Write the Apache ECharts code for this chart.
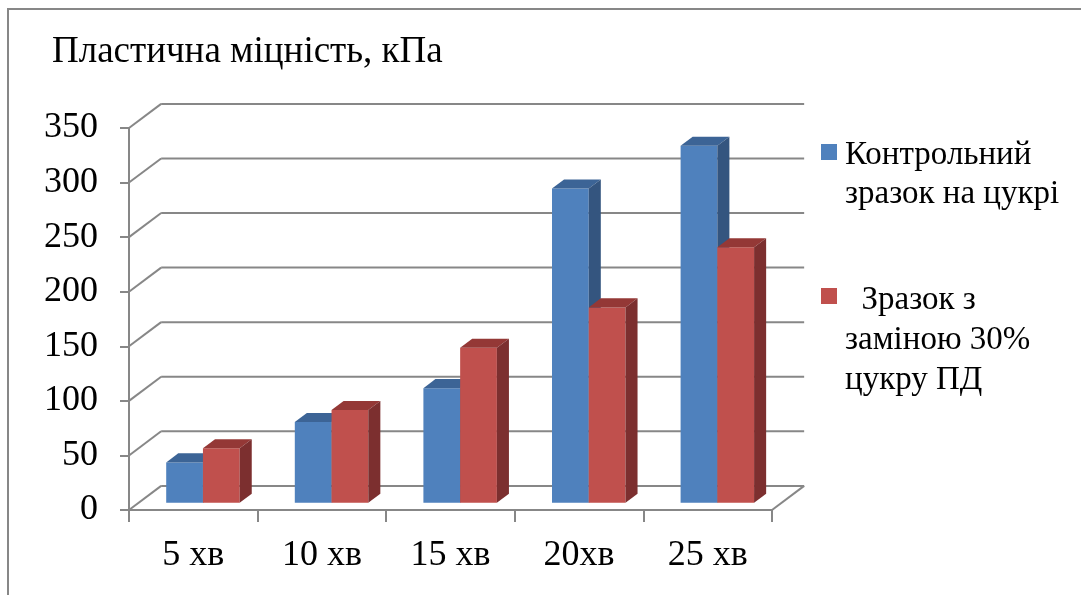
<!DOCTYPE html>
<html><head><meta charset="utf-8">
<script src="https://cdn.jsdelivr.net/npm/echarts@6/dist/echarts.min.js"></script>
<style>html,body{margin:0;padding:0;background:#fff}#c{width:1081px;height:595px}</style>
</head><body><div id="c"></div>
<script>
// ---- data ----
const categories = ['5 хв', '10 хв', '15 хв', '20хв', '25 хв'];
const controlValues = [37, 74, 105, 288, 327];
const pdValues = [50, 85, 142, 179, 234];
const seriesNames = ['Контрольний\nзразок на цукрі', '  Зразок з\nзаміною 30%\nцукру ПД'];
const yTicks = [0, 50, 100, 150, 200, 250, 300, 350];
const titleText = 'Пластична міцність, кПа';

// ---- styles ----
const FONT = "'Liberation Serif', 'Times New Roman', serif";
const GRID = '#878787';
const palettes = [
  { front: '#4F81BD', top: '#3C6496', side: '#34557F' },
  { front: '#C0504D', top: '#943836', side: '#7C2F2F' }
];

function depth(api) {
  const catW = api.size([1, 0])[0];
  const DX = catW * 0.25;
  return { catW, DX, DY: DX * 0.75 };
}

function renderWall(params, api) {
  const cs = params.coordSys;
  const { DX, DY } = depth(api);
  const v = api.value(1);
  const y = api.coord([0, v])[1];
  const x0 = cs.x, x1 = cs.x + cs.width;
  const st = { stroke: GRID, lineWidth: 2 };
  const children = [
    { type: 'line', shape: { x1: x0, y1: y, x2: x0 + DX, y2: y - DY }, style: st },
    { type: 'line', shape: { x1: x0 + DX, y1: y - DY, x2: x1 + DX, y2: y - DY }, style: st }
  ];
  if (v === 0) {
    children.push({ type: 'line', shape: { x1: x1, y1: y, x2: x1 + DX, y2: y - DY }, style: st });
  }
  return { type: 'group', children };
}

function barRenderer(idx) {
  const c = palettes[idx];
  return function (params, api) {
    const ci = api.value(0), v = api.value(1);
    const { catW, DX, DY } = depth(api);
    const base = api.coord([ci, 0]);
    const top = api.coord([ci, v]);
    const bw = catW / 3.5;
    const ox = DX * 0.3, oy = DY * 0.3;
    const dx = DX * 0.375, dy = DY * 0.375;
    const xl = base[0] - bw + idx * bw + ox;
    const xr = xl + bw;
    const yb = base[1] - oy, yt = top[1] - oy;
    return {
      type: 'group', children: [
        { type: 'polygon', shape: { points: [[xl, yb], [xr, yb], [xr, yt], [xl, yt]] }, style: { fill: c.front } },
        { type: 'polygon', shape: { points: [[xl, yt], [xr, yt], [xr + dx, yt - dy], [xl + dx, yt - dy]] }, style: { fill: c.top } },
        { type: 'polygon', shape: { points: [[xr, yb], [xr + dx, yb - dy], [xr + dx, yt - dy], [xr, yt]] }, style: { fill: c.side } }
      ]
    };
  };
}

const chart = echarts.init(document.getElementById('c'), null, { renderer: 'canvas' });
chart.setOption({
  backgroundColor: '#fff',
  animation: false,
  title: {
    text: titleText, left: 52, top: 34, padding: 0,
    textStyle: { fontFamily: FONT, fontSize: 37, fontWeight: 'normal', color: '#000' }
  },
  grid: { left: 129, right: 309, top: 128, bottom: 85, containLabel: false },
  xAxis: {
    type: 'category', data: categories, boundaryGap: true,
    axisLine: { show: true, lineStyle: { color: GRID, width: 2 } },
    axisTick: { show: true, alignWithLabel: false, interval: 0, length: 12, lineStyle: { color: GRID, width: 2 } },
    axisLabel: { interval: 0, margin: 28, fontFamily: FONT, fontSize: 36, color: '#000' },
    splitLine: { show: false }
  },
  yAxis: {
    type: 'value', min: 0, max: 350, interval: 50,
    axisLine: { show: true, lineStyle: { color: GRID, width: 2 } },
    axisTick: { show: true, length: 9, lineStyle: { color: GRID, width: 2 } },
    axisLabel: { margin: 31, fontFamily: FONT, fontSize: 36, color: '#000' },
    splitLine: { show: false }
  },
  series: [
    {
      type: 'custom', name: 'walls', clip: false, z: 1, silent: true,
      data: yTicks.map(v => [0, v]), encode: { x: 0, y: 1 },
      renderItem: renderWall
    },
    {
      type: 'custom', name: seriesNames[0], clip: false, z: 2,
      data: controlValues.map((v, i) => [i, v]), encode: { x: 0, y: 1 },
      renderItem: barRenderer(0)
    },
    {
      type: 'custom', name: seriesNames[1], clip: false, z: 3,
      data: pdValues.map((v, i) => [i, v]), encode: { x: 0, y: 1 },
      renderItem: barRenderer(1)
    }
  ],
  graphic: [
    { type: 'rect', shape: { x: 8, y: 9, width: 1200, height: 700 }, style: { fill: 'none', stroke: GRID, lineWidth: 2 }, z: 0 },
    { type: 'rect', shape: { x: 821, y: 144, width: 16, height: 16 }, style: { fill: palettes[0].front } },
    { type: 'text', x: 845, y: 136, style: { text: seriesNames[0], font: '33px ' + FONT, fill: '#000', lineHeight: 39, verticalAlign: 'top' } },
    { type: 'rect', shape: { x: 821, y: 288, width: 16, height: 16 }, style: { fill: palettes[1].front } },
    { type: 'text', x: 845, y: 280, style: { text: seriesNames[1], font: '33px ' + FONT, fill: '#000', lineHeight: 40, verticalAlign: 'top' } }
  ]
});
</script>
</body></html>
